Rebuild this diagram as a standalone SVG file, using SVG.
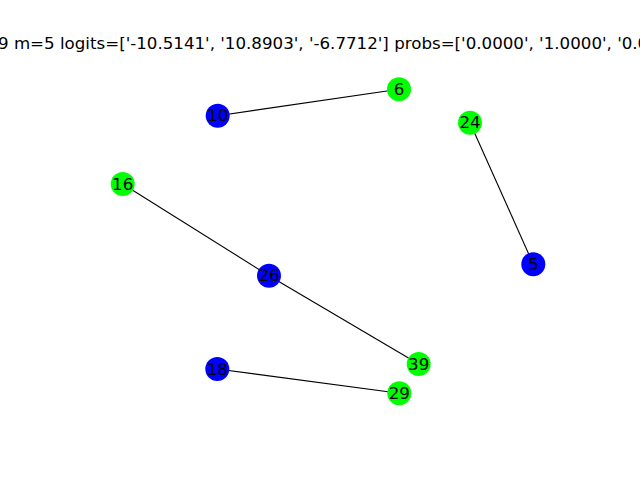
<svg xmlns="http://www.w3.org/2000/svg" width="640" height="480" viewBox="0 0 640 480">
<style>
.edge{stroke:#000;stroke-width:1.1;fill:none}
.b{fill:#0000ff}
.g{fill:#00ff00}
.lbl{font-family:"DejaVu Sans",sans-serif;font-size:16.67px;fill:#000;text-anchor:middle;dominant-baseline:central}
.title{font-family:"DejaVu Sans",sans-serif;font-size:16.67px;fill:#000}
</style>
<rect width="640" height="480" fill="#fff"/>
<text class="title" x="-2" y="49">9 m=5 logits=['-10.5141', '10.8903', '-6.7712'] probs=['0.0000', '1.0000', '0.0000']</text>
<g id="connectors">
<line class="edge" x1="217.7" y1="115.7" x2="399" y2="89.3"/>
<line class="edge" x1="470" y1="122.7" x2="533.3" y2="264.3"/>
<line class="edge" x1="122.7" y1="184" x2="269" y2="275.7"/>
<line class="edge" x1="269" y1="275.7" x2="418.7" y2="364"/>
<line class="edge" x1="217.3" y1="369" x2="399.3" y2="393.3"/>
</g>
<g id="n10"><circle class="b" cx="217.7" cy="115.7" r="12"/><text class="lbl" x="217.7" y="115.7">10</text></g>
<g id="n6"><circle class="g" cx="399" cy="89.3" r="12"/><text class="lbl" x="399" y="89.3">6</text></g>
<g id="n24"><circle class="g" cx="470" cy="122.7" r="12"/><text class="lbl" x="470" y="122.7">24</text></g>
<g id="n16"><circle class="g" cx="122.7" cy="184" r="12"/><text class="lbl" x="122.7" y="184">16</text></g>
<g id="n26"><circle class="b" cx="269" cy="275.7" r="12"/><text class="lbl" x="269" y="275.7">26</text></g>
<g id="n5"><circle class="b" cx="533.3" cy="264.3" r="12"/><text class="lbl" x="533.3" y="264.3">5</text></g>
<g id="n39"><circle class="g" cx="418.7" cy="364" r="12"/><text class="lbl" x="418.7" y="364">39</text></g>
<g id="n18"><circle class="b" cx="217.3" cy="369" r="12"/><text class="lbl" x="217.3" y="369">18</text></g>
<g id="n29"><circle class="g" cx="399.3" cy="393.3" r="12"/><text class="lbl" x="399.3" y="393.3">29</text></g>
</svg>
